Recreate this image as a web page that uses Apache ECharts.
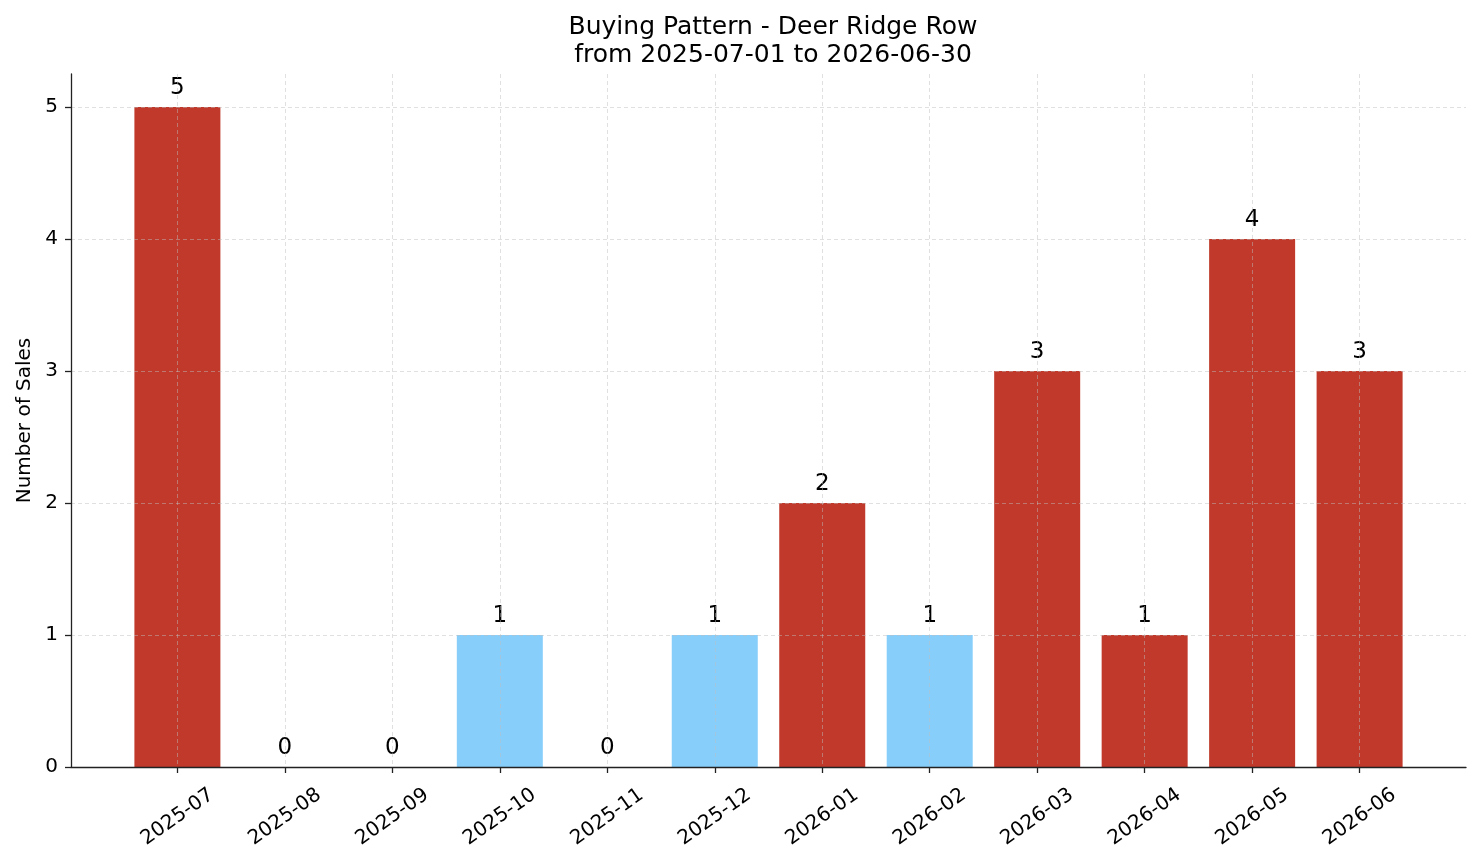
<!DOCTYPE html>
<html>
<head>
<meta charset="utf-8">
<script src="https://cdn.jsdelivr.net/npm/echarts@6/dist/echarts.min.js"></script>
<style>
  html, body { margin: 0; padding: 0; background: #fff; }
  #chart { width: 1481px; height: 863px; }
</style>
</head>
<body>
<div id="chart"></div>
<script>
// data
var months = ["2025-07", "2025-08", "2025-09", "2025-10", "2025-11", "2025-12",
              "2026-01", "2026-02", "2026-03", "2026-04", "2026-05", "2026-06"];
var sales = [5, 0, 0, 1, 0, 1, 2, 1, 3, 1, 4, 3];
var blueMonths = ["2025-10", "2025-12", "2026-02"];
var yTicks = [0, 1, 2, 3, 4, 5];

var RED = "#C0392B";
var BLUE = "#87CEFA";
var FONT = "DejaVu Sans";

var chart = echarts.init(document.getElementById("chart"));

var xTicks = months.map(function (m, i) { return i; });
var barData = sales.map(function (v, i) {
  return {
    value: [i, v],
    itemStyle: { color: blueMonths.indexOf(months[i]) >= 0 ? BLUE : RED }
  };
});

var gridLine = { show: true, lineStyle: { type: [4, 3], color: "rgba(190,190,190,0.6)", width: 0.8 } };
var spine = { show: true, onZero: false, lineStyle: { color: "#222", width: 1.3 } };

var option = {
  animation: false,
  title: {
    text: "Buying Pattern - Deer Ridge Row\nfrom 2025-07-01 to 2026-06-30",
    left: 768,
    textAlign: "center",
    top: 8,
    textStyle: { fontFamily: FONT, fontSize: 25, fontWeight: "normal", color: "#000", lineHeight: 28 }
  },
  grid: { left: 71, right: 15, top: 74, bottom: 96 },
  xAxis: {
    type: "value",
    min: -0.99,
    max: 11.99,
    z: 3,
    axisLine: spine,
    axisTick: { show: true, length: 6, customValues: xTicks, lineStyle: { color: "#222", width: 1.3 } },
    axisLabel: {
      customValues: xTicks,
      formatter: function (v) { return months[v]; },
      rotate: 35,
      align: "center",
      verticalAlign: "middle",
      margin: 50,
      fontFamily: FONT,
      fontSize: 20,
      color: "#000"
    },
    splitLine: gridLine
  },
  yAxis: {
    type: "value",
    min: 0,
    max: 5.25,
    z: 3,
    name: "Number of Sales",
    nameLocation: "middle",
    nameGap: 36,
    nameTextStyle: { fontFamily: FONT, fontSize: 20, color: "#000" },
    axisLine: spine,
    axisTick: { show: true, length: 6, customValues: yTicks, lineStyle: { color: "#222", width: 1.3 } },
    axisLabel: { customValues: yTicks, margin: 13, fontFamily: FONT, fontSize: 20, color: "#000" },
    splitLine: gridLine
  },
  series: [{
    type: "bar",
    data: barData,
    barWidth: 86,
    z: 2,
    label: {
      show: true,
      position: "top",
      distance: 7,
      formatter: function (p) { return p.value[1]; },
      fontFamily: FONT,
      fontSize: 23,
      color: "#000"
    }
  }]
};

chart.setOption(option);
</script>
</body>
</html>
